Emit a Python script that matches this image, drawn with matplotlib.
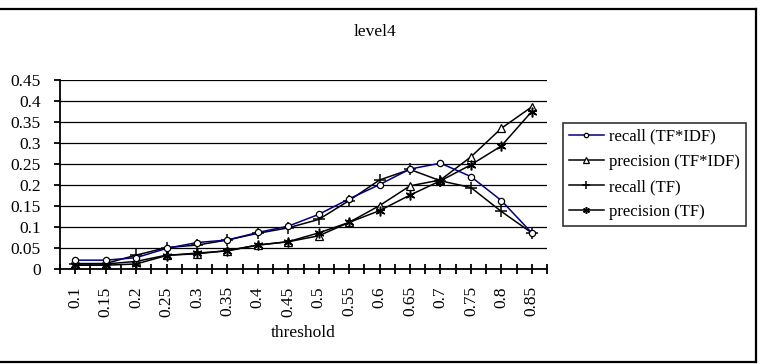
import matplotlib
matplotlib.use("Agg")
import matplotlib.pyplot as plt
from matplotlib.lines import Line2D
from matplotlib.ticker import FixedLocator

categories = ["0.1", "0.15", "0.2", "0.25", "0.3", "0.35", "0.4", "0.45",
              "0.5", "0.55", "0.6", "0.65", "0.7", "0.75", "0.8", "0.85"]
recall_tfidf = [0.021, 0.021, 0.027, 0.049, 0.063, 0.069, 0.087, 0.102,
                0.130, 0.167, 0.201, 0.238, 0.252, 0.220, 0.163, 0.086]
precision_tfidf = [0.012, 0.012, 0.018, 0.033, 0.036, 0.044, 0.057, 0.065,
                   0.079, 0.111, 0.151, 0.198, 0.212, 0.267, 0.335, 0.386]
recall_tf = [0.013, 0.013, 0.033, 0.051, 0.057, 0.069, 0.085, 0.098,
             0.118, 0.163, 0.212, 0.237, 0.210, 0.194, 0.137, 0.086]
precision_tf = [0.009, 0.009, 0.012, 0.032, 0.038, 0.043, 0.057, 0.065,
                0.086, 0.111, 0.139, 0.176, 0.210, 0.248, 0.293, 0.375]
series_labels = ["recall (TF*IDF)", "precision (TF*IDF)", "recall (TF)", "precision (TF)"]
title = "level4"
xlabel = "threshold"
yticks = [0, 0.05, 0.1, 0.15, 0.2, 0.25, 0.3, 0.35, 0.4, 0.45]
ytick_labels = ["0", "0.05", "0.1", "0.15", "0.2", "0.25", "0.3", "0.35", "0.4", "0.45"]

W, H = 760, 364
plt.rcParams['font.family'] = ['Liberation Serif', 'DejaVu Serif']
fs = 12.5

fig = plt.figure(figsize=(W / 100, H / 100), dpi=100)
L, R, T, B = 60, 547, 80, 269
ax = fig.add_axes([L / W, 1 - B / H, (R - L) / W, (B - T) / H])

x = list(range(len(categories)))
ax.plot(x, recall_tfidf, color='#000080', lw=1.1, marker='o', ms=4.5,
        mfc='white', mec='black', mew=0.9, label=series_labels[0], zorder=5)
ax.plot(x, precision_tfidf, color='black', lw=1.1, marker='^', ms=5.5,
        mfc='white', mec='black', mew=0.9, label=series_labels[1], zorder=4)
ax.plot(x, recall_tf, color='black', lw=1.1, marker='+', ms=8,
        mec='black', mew=1.1, label=series_labels[2], zorder=4)
ax.plot(x, precision_tf, color='black', lw=1.1, marker=(6, 2, 0), ms=7,
        mec='black', mew=1.1, label=series_labels[3], zorder=4)

ax.set_xlim(-0.5, len(categories) - 0.5)
ax.set_ylim(0, 0.45)
ax.set_yticks(yticks)
ax.set_yticklabels(ytick_labels, fontsize=fs)
ax.set_xticks(x)
ax.set_xticklabels(categories, rotation=90, fontsize=fs)
ax.xaxis.set_minor_locator(FixedLocator([i - 0.5 for i in range(len(categories) + 1)]))
ax.tick_params(axis='x', which='both', direction='inout', length=7, width=1.3,
               color='black', pad=9)
ax.tick_params(axis='y', which='major', direction='out', length=4, width=1.3, pad=10)
ax.grid(axis='y', color='black', lw=0.9)
ax.set_axisbelow(True)
for s in ['top', 'right']:
    ax.spines[s].set_visible(False)
for s in ['left', 'bottom']:
    ax.spines[s].set_linewidth(1.3)
ax.set_xlabel(xlabel, fontsize=fs, labelpad=6)

fig.text(375 / W, 1 - 32 / H, title, ha='center', va='center', fontsize=fs)

leg = fig.legend(loc='upper left', bbox_to_anchor=(563 / W, 1 - 123 / H),
                 fontsize=12, frameon=True, fancybox=False, edgecolor='black',
                 borderpad=0.35, labelspacing=0.55, handlelength=2.1,
                 handletextpad=0.3, borderaxespad=0, markerscale=0.7)
leg.get_frame().set_linewidth(1.2)

# chart area border (top, right, bottom)
lw = 1.6
fig.add_artist(Line2D([0, 756 / W], [1 - 9 / H, 1 - 9 / H], color='black', lw=lw))
fig.add_artist(Line2D([756 / W, 756 / W], [1 - 9 / H, 2 / H], color='black', lw=lw))
fig.add_artist(Line2D([0, 756 / W], [2 / H, 2 / H], color='black', lw=lw))

fig.savefig("out.png", dpi=100)
